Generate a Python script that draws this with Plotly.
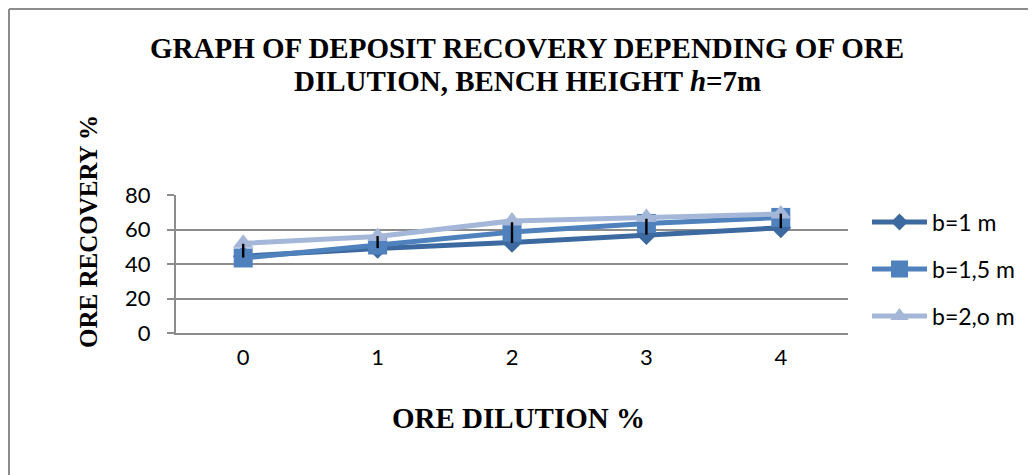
import plotly.graph_objects as go

categories = ["0", "1", "2", "3", "4"]
b1 = [44.5, 49, 52.5, 57, 61]
b15 = [43.5, 51, 58.5, 63.5, 67]
b20 = [52, 56, 65, 67, 69]
err_center = [47.7, 52.7, 58.2, 61.6, 65]
err_half = [4, 3.5, 6, 4.6, 4.2]
series_names = ["b=1 m", "b=1,5 m", "b=2,o m"]
series_colors = ["#3C6AA0", "#4F81BD", "#A5B7D9"]
series_symbols = ["diamond", "square", "triangle-up"]
plot_sizes = [16, 19, 18]
legend_sizes = [13, 17, 16]

# page has an 8px body margin; work in reference pixel space
OFF = 8
W, H = 1036 - OFF, 475 - OFF


def px(x):
    return (x - OFF) / W


def py(y):
    return 1 - (y - OFF) / H


fig = go.Figure()
for vals, name, col, sym, sz in zip([b1, b15, b20], series_names, series_colors,
                                    series_symbols, plot_sizes):
    fig.add_trace(go.Scatter(x=categories, y=vals, name=name, mode="lines+markers",
                             line=dict(color=col, width=5),
                             marker=dict(symbol=sym, size=sz, color=col),
                             showlegend=False))
fig.add_trace(go.Scatter(x=categories, y=err_center, mode="markers", showlegend=False,
                         marker=dict(size=1, color="rgba(0,0,0,0)"),
                         error_y=dict(type="data", array=err_half, symmetric=True,
                                      color="black", thickness=2.4, width=0),
                         hoverinfo="skip"))

# legend replica on its own small axes (lines 55px long like the original)
legend_rows = [222, 269, 316]
for name, col, sym, sz, ly in zip(series_names, series_colors, series_symbols,
                                  legend_sizes, legend_rows):
    fig.add_trace(go.Scatter(x=[0, 0.5, 1], y=[ly, ly, ly], mode="lines",
                             line=dict(color=col, width=5), xaxis="x2", yaxis="y2",
                             showlegend=False, hoverinfo="skip"))
    fig.add_trace(go.Scatter(x=[0.5], y=[ly], mode="markers",
                             marker=dict(symbol=sym, size=sz, color=col), xaxis="x2", yaxis="y2",
                             showlegend=False, hoverinfo="skip"))
    fig.add_annotation(text=name, xref="paper", yref="paper", x=px(930), y=py(ly),
                       xanchor="left", yanchor="middle", showarrow=False,
                       font=dict(family="Lato, Noto Sans, sans-serif", size=23, color="black"))

grid_col = "#8c8c8c"
fig.update_layout(
    width=W, height=H,
    margin=dict(l=0, r=0, t=0, b=0, autoexpand=False),
    paper_bgcolor="white", plot_bgcolor="white",
    font=dict(family="Lato, Noto Sans, sans-serif", color="black"),
    xaxis=dict(domain=[px(176), px(848)], type="category", range=[-0.5, 4.5],
               showline=True, linecolor=grid_col, linewidth=2, showgrid=False,
               ticks="", tickfont=dict(size=22), fixedrange=True, ticklabelstandoff=4),
    yaxis=dict(domain=[py(333), py(195)], range=[0, 80], dtick=20,
               showline=True, linecolor=grid_col, linewidth=2,
               showgrid=True, gridcolor=grid_col, gridwidth=2,
               ticks="outside", ticklen=7, tickcolor=grid_col, tickwidth=2,
               tickfont=dict(size=22), zeroline=False, ticklabelstandoff=12),
    xaxis2=dict(domain=[px(872), px(927)], range=[0, 1], visible=False, fixedrange=True),
    yaxis2=dict(domain=[py(340), py(200)], range=[340, 200], visible=False, fixedrange=True,
                anchor="x2"),
    showlegend=False,
)

title_font = dict(family="Liberation Serif, Times New Roman, serif", size=29, color="black")
fig.add_annotation(text="<b>GRAPH OF DEPOSIT RECOVERY DEPENDING OF ORE</b>",
                   xref="paper", yref="paper", x=px(527), y=py(48), showarrow=False,
                   font=title_font, xanchor="center", yanchor="middle")
fig.add_annotation(text="<b>DILUTION, BENCH HEIGHT <i>h</i>=7m</b>",
                   xref="paper", yref="paper", x=px(527), y=py(81), showarrow=False,
                   font=title_font, xanchor="center", yanchor="middle")
fig.add_annotation(text="<b>ORE RECOVERY %</b>", xref="paper", yref="paper",
                   x=px(88), y=py(232), showarrow=False, textangle=-90,
                   font=dict(family="Liberation Serif, Times New Roman, serif", size=25, color="black"),
                   xanchor="center", yanchor="middle")
fig.add_annotation(text="<b>ORE DILUTION %</b>", xref="paper", yref="paper",
                   x=px(518), y=py(418), showarrow=False,
                   font=title_font, xanchor="center", yanchor="middle")

# outer chart border (top and left edges visible)
fig.add_shape(type="line", xref="paper", yref="paper", x0=px(9), x1=1.01, y0=py(9), y1=py(9),
              line=dict(color=grid_col, width=2))
fig.add_shape(type="line", xref="paper", yref="paper", x0=px(9), x1=px(9), y0=-0.01, y1=py(9),
              line=dict(color=grid_col, width=2))

fig.write_html("out.html")
